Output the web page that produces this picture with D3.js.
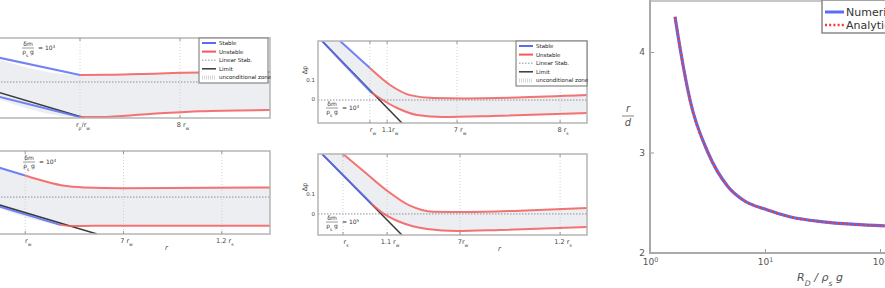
<!DOCTYPE html>
<html>
<head>
<meta charset="utf-8">
<script src="https://cdn.jsdelivr.net/npm/d3@7"></script>
<style>
  body { margin: 0; background: #fff; }
  svg { display: block; font-family: "DejaVu Sans", sans-serif; }
</style>
</head>
<body>
<svg id="chart" width="885" height="288"></svg>
<script>
// ---- left panel, top (x in r/r_w units, y normalised) ----
const ltStableUp = [[0, 0.61], [1, 0.075]];
const ltUnstableUp = [[1, 0.075], [1.3, 0.08], [1.6, 0.1], [2.2, 0.14], [2.9, 0.15]];
const ltStableLow = [[0, -0.35], [1, -0.975]];
const ltUnstableLow = [[1, -0.975], [1.2, -0.975], [1.7, -0.9], [2.2, -0.83], [2.9, -0.8]];
const ltLimit = [[0, -0.22], [1.05, -1]];
const ltMid = -0.1;
const ltTicks = [1, 2];
const ltTickLabels = ["r_p/r_w", "8 r_w"];

// ---- left panel, bottom ----
const lbStableUp = [[0.54, 0.74], [1, 0.41]];
const lbUnstableUp = [[1, 0.41], [1.2, 0.27], [1.4, 0.16], [1.6, 0.12], [2, 0.1], [3.49, 0.12]];
const lbStableLow = [[0.54, -0.2], [1.355, -0.78]];
const lbUnstableLow = [[1.355, -0.78], [1.5, -0.81], [1.7, -0.8], [3.49, -0.8]];
const lbLimit = [[0.54, -0.16], [1.73, -1]];
const lbMid = -0.11;
const lbTicks = [1, 2, 3];
const lbTickLabels = ["r_w", "7 r_w", "1.2 r_s"];

// ---- middle panel, top ----
const mtStableUp = [[0.82, 1], [1.93, 0.67]];
const mtUnstableUp = [[1.93, 0.67], [2.68, 0.463], [3.42, 0.34], [4.28, 0.305], [5.5, 0.3], [7.4, 0.31], [10, 0.34]];
const mtStableLow = [[0.15, 1], [2.0, 0.366]];
const mtUnstableLow = [[2.0, 0.366], [2.94, 0.183], [3.68, 0.098], [4.65, 0.073], [6.5, 0.085], [10, 0.122]];
const mtLimit = [[0.15, 1], [3.12, 0]];
const mtMid = 0.28;
const mtTicks = [1.93, 2.57, 5.17, 9.0];
const mtTickLabels = ["r_w", "1.1r_w", "7 r_w", "8 r_s"];
const mtYTicks = [0.29, 0.52];
const mtYTickLabels = ["0", "0.1"];

// ---- middle panel, bottom ----
const mbStableUp = [];
const mbUnstableUp = [[0.93, 1], [1.82, 0.753], [2.57, 0.547], [3.42, 0.362], [4.28, 0.288], [5.54, 0.284], [7.5, 0.3], [10, 0.333]];
const mbStableLow = [[0.15, 1], [2.0, 0.383]];
const mbUnstableLow = [[2.0, 0.383], [2.41, 0.27], [3.05, 0.16], [4.06, 0.074], [5.17, 0.049], [6.77, 0.062], [10, 0.099]];
const mbLimit = [[0.15, 1], [3.12, 0]];
const mbMid = 0.26;
const mbTicks = [0.93, 2.57, 5.28, 9.0];
const mbTickLabels = ["r_s", "1.1 r_w", "7r_w", "1.2 r_s"];
const mbYTicks = [0.26, 0.51];
const mbYTickLabels = ["0", "0.1"];

const legendLabels = ["Stable", "Unstable", "Linear Stab.", "Limit", "unconditional zone"];

// ---- right panel: radius ratio vs R_D / rho_s g ----
const rdValues = [1.65, 1.85, 2.23, 3.19, 4.77, 6.4, 10.4, 16.4, 31.9, 60, 110];
const radiusRatio = [4.35, 4.0, 3.52, 3.0, 2.66, 2.53, 2.43, 2.36, 2.31, 2.285, 2.27];
const rightXTicks = [1, 10, 100];
const rightYTicks = [2, 3, 4];

const blue = "#5b6cf2", red = "#f25a5a", dark = "#3a3a3a";
const svg = d3.select("#chart");

// text with _x / ^x sub- and superscripts
function rich(t, s) {
  s.split(/([_^]\{[^}]*\}|[_^][^\s\/]+)/).forEach(function (p) {
    if (!p) return;
    if (p[0] === "_" || p[0] === "^") {
      const body = p[1] === "{" ? p.slice(2, -1) : p.slice(1);
      t.append("tspan").attr("baseline-shift", p[0] === "_" ? "sub" : "super")
        .attr("font-size", "70%").text(body);
    } else {
      t.append("tspan").text(p);
    }
  });
  return t;
}

function annotate(g, x, y, exp) {
  const a = g.append("g").attr("transform", "translate(" + x + "," + y + ")")
    .attr("font-size", 6).attr("fill", "#333");
  a.append("text").attr("x", 5).attr("y", 0).attr("text-anchor", "middle").text("δm");
  a.append("line").attr("x1", -1).attr("x2", 11).attr("y1", 2).attr("y2", 2).attr("stroke", "#333").attr("stroke-width", 0.5);
  rich(a.append("text").attr("x", 5).attr("y", 8).attr("text-anchor", "middle"), "ρ_s g");
  rich(a.append("text").attr("x", 15).attr("y", 4), "= 10^" + exp);
}

function drawPanel(cfg, idx) {
  const b = cfg.box;
  const x = d3.scaleLinear().domain(cfg.xDomain).range([b.x0, b.x1]);
  const y = d3.scaleLinear().domain(cfg.yDomain).range([b.y1, b.y0]);
  const g = svg.append("g");

  g.append("clipPath").attr("id", "clip" + idx).append("rect")
    .attr("x", b.x0).attr("y", b.y0).attr("width", b.x1 - b.x0).attr("height", b.y1 - b.y0);
  const inner = g.append("g").attr("clip-path", "url(#clip" + idx + ")");

  const line = d3.line().x(d => x(d[0])).y(d => y(d[1]));
  const smooth = d3.line().x(d => x(d[0])).y(d => y(d[1])).curve(d3.curveMonotoneX);

  // shaded band between the two branches
  const upper = cfg.stableUp.concat(cfg.stableUp.length ? cfg.unstableUp.slice(1) : cfg.unstableUp);
  const lower = cfg.stableLow.concat(cfg.unstableLow.slice(1));
  const band = smooth(upper) + "L" + smooth(lower.slice().reverse()).slice(1) + "Z";
  inner.append("path").attr("d", band).attr("fill", "#eceef1");

  // vertical grid
  inner.selectAll(".grid").data(cfg.ticks).enter().append("line")
    .attr("x1", d => x(d)).attr("x2", d => x(d))
    .attr("y1", b.y0).attr("y2", b.y1)
    .attr("stroke", "#cfd2d6").attr("stroke-dasharray", "1,2");

  // mean line
  inner.append("line").attr("x1", b.x0).attr("x2", b.x1)
    .attr("y1", y(cfg.mid)).attr("y2", y(cfg.mid))
    .attr("stroke", "#8d939c").attr("stroke-dasharray", "1.5,1.5");

  inner.append("path").attr("d", line(cfg.limit)).attr("fill", "none")
    .attr("stroke", dark).attr("stroke-width", 1.5);
  [cfg.stableUp, cfg.stableLow].forEach(function (s) {
    if (!s.length) return;
    inner.append("path").attr("d", line(s)).attr("fill", "none")
      .attr("stroke", blue).attr("stroke-width", 2).attr("stroke-opacity", 0.85);
  });
  [cfg.unstableUp, cfg.unstableLow].forEach(function (s) {
    inner.append("path").attr("d", smooth(s)).attr("fill", "none")
      .attr("stroke", red).attr("stroke-width", 2).attr("stroke-opacity", 0.85);
  });

  // frame
  g.append("rect").attr("x", b.x0).attr("y", b.y0)
    .attr("width", b.x1 - b.x0).attr("height", b.y1 - b.y0)
    .attr("fill", "none").attr("stroke", "#b5b5b5").attr("stroke-width", 1.5);

  // ticks and labels on x
  cfg.ticks.forEach(function (t, i) {
    g.append("line").attr("x1", x(t)).attr("x2", x(t)).attr("y1", b.y0).attr("y2", b.y0 + 3).attr("stroke", "#999");
    g.append("line").attr("x1", x(t)).attr("x2", x(t)).attr("y1", b.y1).attr("y2", b.y1 - 3).attr("stroke", "#999");
    rich(g.append("text").attr("x", x(t) + 3).attr("y", b.y1 + 9)
      .attr("text-anchor", "middle").attr("font-size", 6.5).attr("fill", "#444"), cfg.tickLabels[i]);
  });

  if (cfg.yTicks) {
    cfg.yTicks.forEach(function (t, i) {
      g.append("text").attr("x", b.x0 - 3).attr("y", y(t) + 2)
        .attr("text-anchor", "end").attr("font-size", 5.5).attr("fill", "#444").text(cfg.yTickLabels[i]);
    });
    g.append("text").attr("transform", "translate(" + (b.x0 - 11) + "," + cfg.yLabelY + ") rotate(-90)")
      .attr("text-anchor", "middle").attr("font-size", 6.5).attr("fill", "#444").text("Δp");
  }

  if (cfg.xLabel) {
    g.append("text").attr("x", cfg.xLabel[0]).attr("y", cfg.xLabel[1])
      .attr("font-size", 7).attr("fill", "#444").attr("font-style", "italic").text("r");
  }

  annotate(g, cfg.note[0], cfg.note[1], cfg.note[2]);

  if (cfg.legend) {
    const lg = g.append("g").attr("transform", "translate(" + cfg.legend[0] + "," + cfg.legend[1] + ")");
    lg.append("rect").attr("width", cfg.legend[2]).attr("height", 45)
      .attr("fill", "#fff").attr("stroke", "#888").attr("stroke-width", 1.2);
    const styles = [
      {stroke: blue, w: 2, dash: null},
      {stroke: red, w: 2, dash: null},
      {stroke: "#8d939c", w: 1, dash: "1.5,1.5"},
      {stroke: dark, w: 1.5, dash: null},
      {stroke: "#d3d6db", w: 4, dash: "1,1"}
    ];
    legendLabels.forEach(function (lab, i) {
      const yy = 5 + i * 8.6;
      lg.append("line").attr("x1", 3).attr("x2", 17).attr("y1", yy).attr("y2", yy)
        .attr("stroke", styles[i].stroke).attr("stroke-width", styles[i].w)
        .attr("stroke-dasharray", styles[i].dash);
      lg.append("text").attr("x", 20).attr("y", yy + 2).attr("font-size", 5.5).attr("fill", "#222").text(lab);
    });
  }
}

const panels = [
  {box: {x0: -20, x1: 270, y0: 38, y1: 118}, xDomain: [0, 2.9], yDomain: [-1, 1],
   stableUp: ltStableUp, unstableUp: ltUnstableUp, stableLow: ltStableLow, unstableLow: ltUnstableLow,
   limit: ltLimit, mid: ltMid, ticks: ltTicks, tickLabels: ltTickLabels,
   note: [23, 46, 3], legend: [199, 38, 69]},
  {box: {x0: -20, x1: 270, y0: 151, y1: 234}, xDomain: [0.54, 3.49], yDomain: [-1, 1],
   stableUp: lbStableUp, unstableUp: lbUnstableUp, stableLow: lbStableLow, unstableLow: lbUnstableLow,
   limit: lbLimit, mid: lbMid, ticks: lbTicks, tickLabels: lbTickLabels,
   note: [24, 160, 4], xLabel: [165, 250]},
  {box: {x0: 318, x1: 587, y0: 41, y1: 123}, xDomain: [0, 10], yDomain: [0, 1],
   stableUp: mtStableUp, unstableUp: mtUnstableUp, stableLow: mtStableLow, unstableLow: mtUnstableLow,
   limit: mtLimit, mid: mtMid, ticks: mtTicks, tickLabels: mtTickLabels,
   yTicks: mtYTicks, yTickLabels: mtYTickLabels, yLabelY: 70,
   note: [327, 106, 3], legend: [516, 41, 71]},
  {box: {x0: 318, x1: 587, y0: 154, y1: 235}, xDomain: [0, 10], yDomain: [0, 1],
   stableUp: mbStableUp, unstableUp: mbUnstableUp, stableLow: mbStableLow, unstableLow: mbUnstableLow,
   limit: mbLimit, mid: mbMid, ticks: mbTicks, tickLabels: mbTickLabels,
   yTicks: mbYTicks, yTickLabels: mbYTickLabels, yLabelY: 187,
   note: [327, 220, 5], xLabel: [498, 251]}
];
panels.forEach(drawPanel);

// ---- right panel ----
const xR = d3.scaleLog().domain([1, 100]).range([650, 880]);
const yR = d3.scaleLinear().domain([2, 4]).range([253, 52]);
const rg = svg.append("g");

const yAx = rg.append("g").attr("transform", "translate(650,0)")
  .call(d3.axisLeft(yR).tickValues(rightYTicks).tickSize(-4).tickPadding(5).tickFormat(d3.format("d")));
const xAx = rg.append("g").attr("transform", "translate(0,253)")
  .call(d3.axisBottom(xR).tickValues(rightXTicks).tickSize(-4).tickPadding(6).tickFormat(""));
[yAx, xAx].forEach(function (a) {
  a.select(".domain").remove();
  a.selectAll(".tick line").attr("stroke", "#999");
  a.selectAll(".tick text").attr("font-size", 9).attr("fill", "#555")
    .attr("font-family", "DejaVu Sans, sans-serif");
});
xAx.selectAll(".tick text").each(function (d) {
  rich(d3.select(this), "10^" + Math.round(Math.log10(d)));
});

rg.append("path").attr("d", "M650,0V253H885").attr("fill", "none")
  .attr("stroke", "#a9a9a9").attr("stroke-width", 2);
rg.append("line").attr("x1", 650).attr("x2", 885).attr("y1", 1).attr("y2", 1)
  .attr("stroke", "#b5b5b5").attr("stroke-width", 1.5);

const rline = d3.line().x((d, i) => xR(rdValues[i])).y(d => yR(d)).curve(d3.curveMonotoneX);
rg.append("path").attr("d", rline(radiusRatio)).attr("fill", "none")
  .attr("stroke", blue).attr("stroke-width", 3.2);
rg.append("path").attr("d", rline(radiusRatio)).attr("fill", "none")
  .attr("stroke", "#f03a3a").attr("stroke-width", 2.4).attr("stroke-dasharray", "2,2.2");

const rl = rg.append("g").attr("transform", "translate(822,0)");
rl.append("rect").attr("x", 0).attr("y", 0).attr("width", 80).attr("height", 33)
  .attr("fill", "#fff").attr("stroke", "#888").attr("stroke-width", 1.5);
rl.append("line").attr("x1", 3).attr("x2", 22).attr("y1", 12).attr("y2", 12)
  .attr("stroke", blue).attr("stroke-width", 3);
rl.append("line").attr("x1", 3).attr("x2", 22).attr("y1", 25).attr("y2", 25)
  .attr("stroke", "#f03a3a").attr("stroke-width", 2.4).attr("stroke-dasharray", "2,2.2");
rl.append("text").attr("x", 24).attr("y", 16).attr("font-size", 11).attr("fill", "#333").text("Numerical");
rl.append("text").attr("x", 24).attr("y", 29).attr("font-size", 11).attr("fill", "#333").text("Analytical");

rich(rg.append("text").attr("x", 820).attr("y", 281).attr("text-anchor", "middle")
  .attr("font-size", 11).attr("fill", "#555").attr("font-style", "italic"), "R_D / ρ_s g");
rg.append("text").attr("x", 628).attr("y", 112).attr("text-anchor", "middle")
  .attr("font-size", 10).attr("fill", "#555").attr("font-style", "italic").text("r");
rg.append("line").attr("x1", 622).attr("x2", 634).attr("y1", 116).attr("y2", 116)
  .attr("stroke", "#666").attr("stroke-width", 0.8);
rg.append("text").attr("x", 628).attr("y", 126).attr("text-anchor", "middle")
  .attr("font-size", 10).attr("fill", "#555").attr("font-style", "italic").text("d");
</script>
</body>
</html>
